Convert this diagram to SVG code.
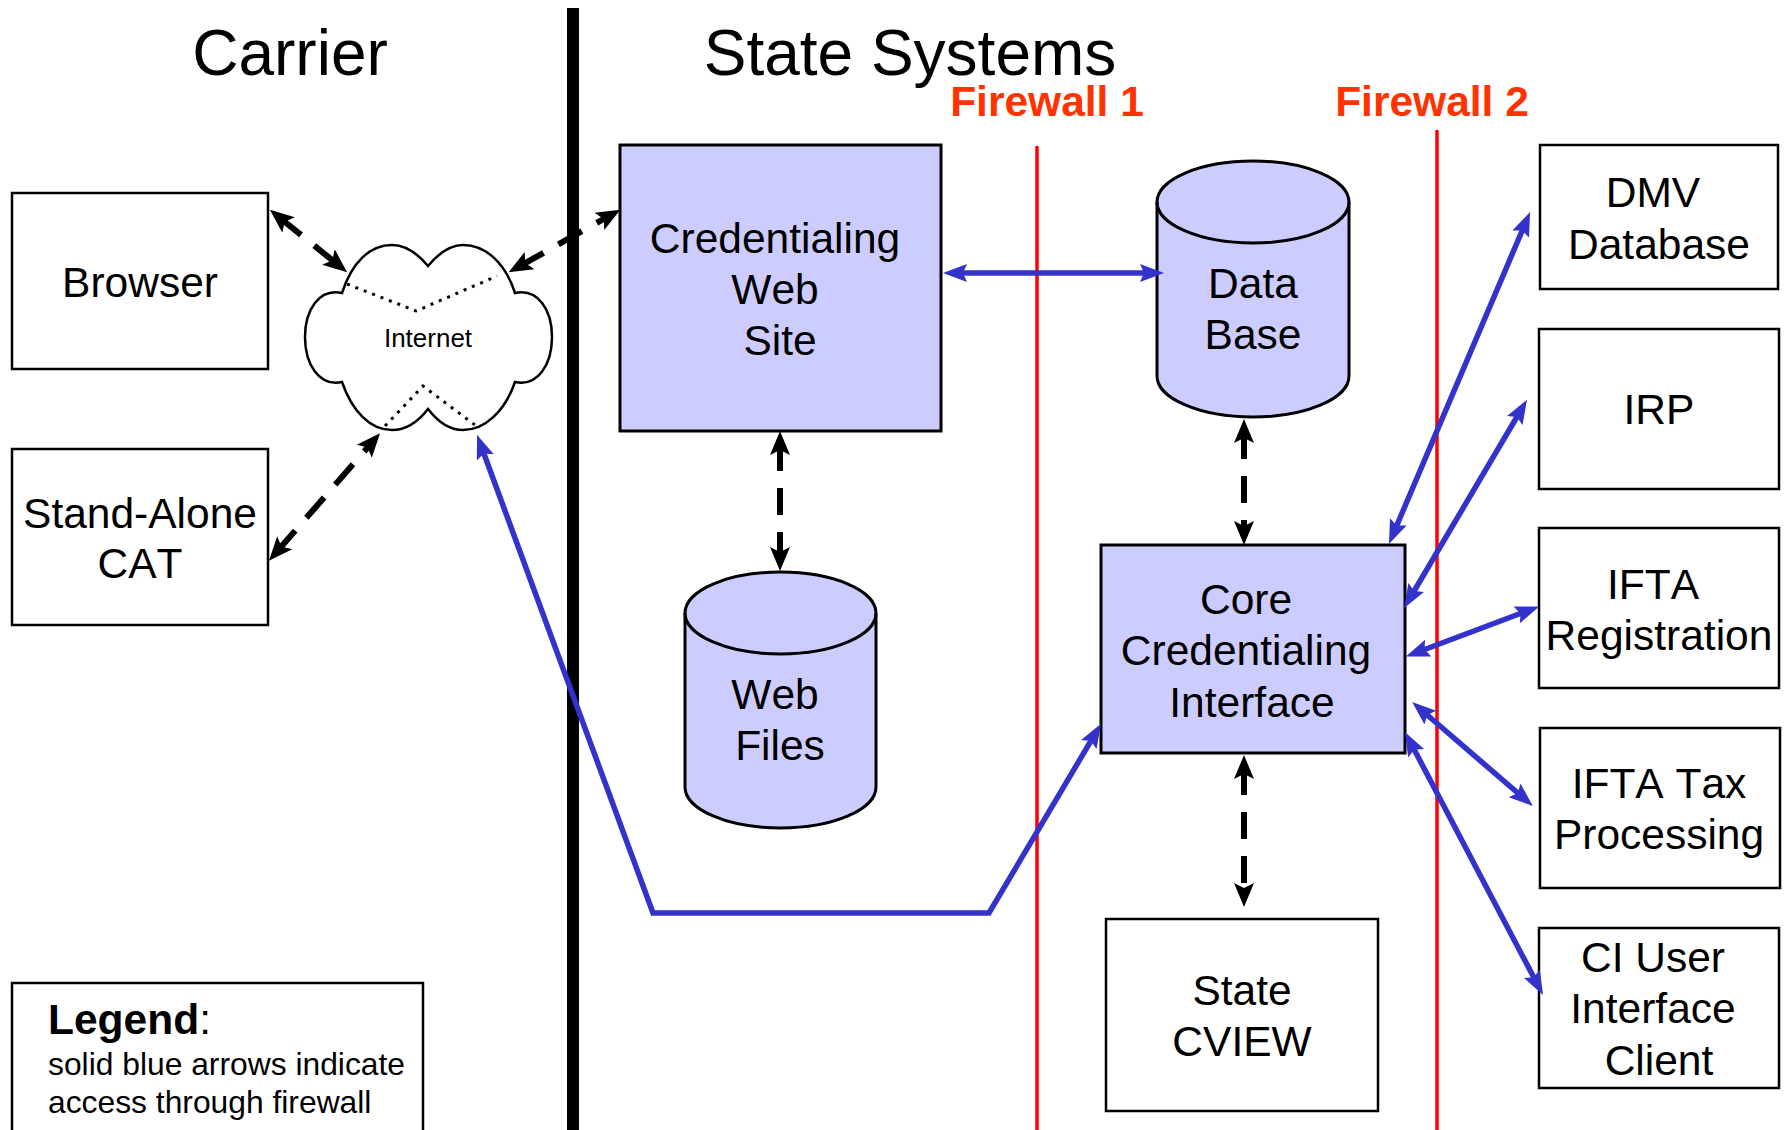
<svg xmlns="http://www.w3.org/2000/svg" width="1787" height="1130" viewBox="0 0 1787 1130">
<defs>
<marker id="ab" markerUnits="userSpaceOnUse" markerWidth="26" markerHeight="24" refX="11" refY="12" orient="auto-start-reverse"><path d="M0,2 L24,12 L0,22 L5,12 Z" fill="#000"/></marker>
<marker id="au" markerUnits="userSpaceOnUse" markerWidth="26" markerHeight="24" refX="11" refY="12" orient="auto-start-reverse"><path d="M0,3 L24,12 L0,21 L4,12 Z" fill="#3333cc"/></marker>
</defs>
<style>
text{font-family:"Liberation Sans",Arial,sans-serif;fill:#000;font-size:42.5px;text-anchor:middle;font-kerning:none}
.w{fill:#fff;stroke:#000;stroke-width:2.5}
.p{fill:#ccccff;stroke:#000;stroke-width:3}
.fw{fill:#ff3300;font-weight:bold;font-size:42.5px}
.red{stroke:#ff0000;stroke-width:3.5;fill:none}
.d{stroke:#000;stroke-width:6;stroke-dasharray:27 17;fill:none;marker-start:url(#ab);marker-end:url(#ab)}
.s{stroke:#3333cc;stroke-width:5.5;fill:none;marker-start:url(#au);marker-end:url(#au)}
.dot{stroke:#000;stroke-width:3;stroke-dasharray:3 6;fill:none}
</style>
<g id="divider"><rect x="567" y="8" width="12" height="1122" fill="#000"/></g>
<text x="290" y="75" style="font-size:64px">Carrier</text>
<text x="910" y="75" style="font-size:64px">State Systems</text>
<g id="firewall1"><line class="red" x1="1037" y1="146" x2="1037" y2="1130"/><text class="fw" x="1047" y="116">Firewall 1</text></g>
<g id="firewall2"><line class="red" x1="1437" y1="130" x2="1437" y2="1130"/><text class="fw" x="1432" y="116">Firewall 2</text></g>
<g id="browser"><rect class="w" x="12" y="193" width="256" height="176"/><text x="140" y="297">Browser</text></g>
<g id="standalone"><rect class="w" x="12" y="449" width="256" height="176"/><text x="140" y="528">Stand-Alone</text><text x="140" y="578">CAT</text></g>
<g id="internet"><path d="M342,293 C352,262 370,245 392,245 C406,245 418,254 428,266 C438,254 450,245 463,245 C485,245 505,262 515,293 C538,288 552,310 552,337 C552,364 538,387 515,382 C505,411 485,430 463,430 C450,430 438,422 428,409 C418,422 406,430 392,430 C370,430 352,411 342,382 C319,387 305,364 305,337 C305,310 319,288 342,293 Z" fill="#fff" stroke="#000" stroke-width="2.5"/>
<path class="dot" d="M347,284 L416,311 L497,276"/><path class="dot" d="M385,426 L423,386 L475,425"/>
<text x="428" y="347" style="font-size:26px">Internet</text></g>
<g id="credentialing-web-site"><rect class="p" x="620" y="145" width="321" height="286"/><text x="775" y="253">Credentialing</text><text x="775" y="304">Web</text><text x="780" y="355">Site</text></g>
<g id="data-base"><path class="p" d="M1157,202 A96,41 0 0 1 1349,202 V376 A96,41 0 0 1 1157,376 Z"/><path class="p" style="fill:none" d="M1157,202 A96,41 0 0 0 1349,202"/><text x="1253" y="298">Data</text><text x="1253" y="349">Base</text></g>
<g id="web-files"><path class="p" d="M685,613 A95.5,41 0 0 1 876,613 V787 A95.5,41 0 0 1 685,787 Z"/><path class="p" style="fill:none" d="M685,613 A95.5,41 0 0 0 876,613"/><text x="775" y="709">Web</text><text x="780" y="760">Files</text></g>
<g id="core"><rect class="p" x="1101" y="545" width="304" height="208"/><text x="1246" y="614">Core</text><text x="1246" y="665">Credentialing</text><text x="1252" y="717">Interface</text></g>
<g id="cview"><rect class="w" x="1106" y="919" width="272" height="192"/><text x="1242" y="1005">State</text><text x="1242" y="1056">CVIEW</text></g>
<g id="dmv"><rect class="w" x="1540" y="145" width="238" height="144"/><text x="1653" y="207">DMV</text><text x="1659" y="259">Database</text></g>
<g id="irp"><rect class="w" x="1539" y="329" width="240" height="160"/><text x="1659" y="424">IRP</text></g>
<g id="ifta-reg"><rect class="w" x="1539" y="528" width="240" height="160"/><text x="1653" y="599">IFTA</text><text x="1659" y="650">Registration</text></g>
<g id="ifta-tax"><rect class="w" x="1540" y="728" width="240" height="160"/><text x="1659" y="798">IFTA Tax</text><text x="1659" y="849">Processing</text></g>
<g id="ci"><rect class="w" x="1539" y="928" width="240" height="160"/><text x="1653" y="972">CI User</text><text x="1653" y="1023">Interface</text><text x="1659" y="1075">Client</text></g>
<g id="legend"><rect class="w" x="12" y="983" width="411" height="150"/><text x="48" y="1034" style="text-anchor:start"><tspan font-weight="bold">Legend</tspan>:</text><text x="48" y="1075" style="text-anchor:start;font-size:31.8px">solid blue arrows indicate</text><text x="48" y="1113" style="text-anchor:start;font-size:31.8px">access through firewall</text></g>
<g id="connectors">
<line class="d" x1="280" y1="218" x2="337" y2="264"/>
<line class="d" x1="520" y1="266" x2="609" y2="216"/>
<line class="d" x1="277.5" y1="551" x2="371.5" y2="443"/>
<line class="d" x1="780" y1="444" x2="780" y2="558"/>
<line class="d" x1="1244" y1="432" x2="1244" y2="532"/>
<line class="d" x1="1244" y1="768" x2="1244" y2="894"/>
<line class="s" x1="956" y1="273" x2="1151" y2="273"/>
<path class="s" d="M481.5,447 L653,913 L989,913 L1094.4,735"/>
<line class="s" x1="1394" y1="532" x2="1525" y2="224"/>
<line class="s" x1="1410.6" y1="597" x2="1520.4" y2="411"/>
<line class="s" x1="1418" y1="652" x2="1527" y2="611"/>
<line class="s" x1="1422" y1="710.5" x2="1523" y2="797.5"/>
<line class="s" x1="1411" y1="743.5" x2="1537" y2="983.5"/>
</g>
</svg>
